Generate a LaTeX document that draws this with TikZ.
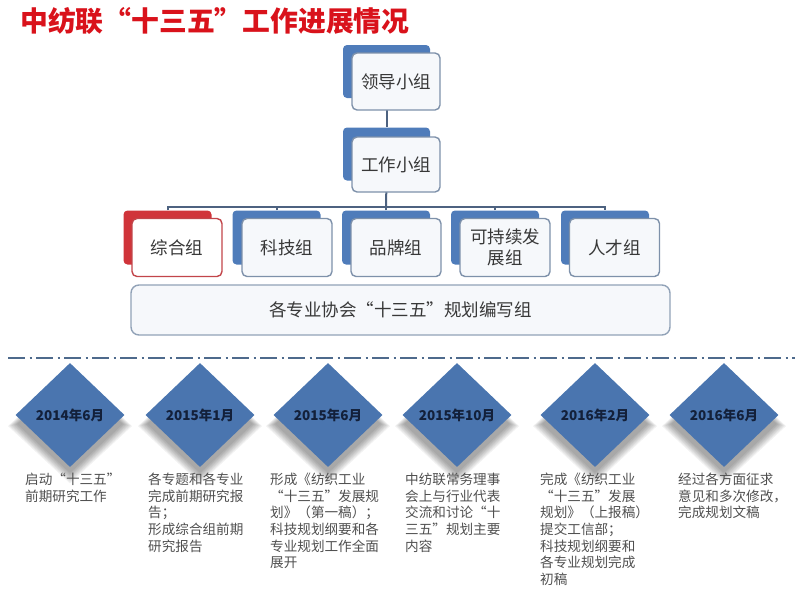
\documentclass[tikz,border=0pt]{standalone}
\usepackage{fontspec}
\setmainfont{Noto Sans CJK SC}
\usetikzlibrary{shapes.geometric}
\definecolor{boxblue}{HTML}{4F7CBA}
\definecolor{boxred}{HTML}{D0343A}
\definecolor{frontedge}{HTML}{7E91AA}
\definecolor{rededge}{HTML}{C2454A}
\definecolor{frontfill}{HTML}{F6F8FB}
\definecolor{conn}{HTML}{4D6280}
\definecolor{diamblue}{HTML}{4A75AF}
\definecolor{diamtext}{HTML}{13203A}
\definecolor{bodytext}{HTML}{4F4F4F}
\definecolor{titlered}{HTML}{D9121B}
\definecolor{dashcol}{HTML}{4E6A8C}
\begin{document}
\begin{tikzpicture}[x=1pt,y=-1pt,
  backbox/.style={fill=boxblue, rounded corners=4pt, inner sep=0pt, minimum width=88pt, minimum height=54pt},
  redback/.style={backbox, fill=boxred},
  frontbox/.style={fill=frontfill, draw=frontedge, line width=1.4pt, rounded corners=5pt, inner sep=0pt,
     minimum width=90pt, minimum height=58pt, font=\fontsize{17.5}{20.5}\selectfont, text=black!78, align=center},
  redfront/.style={frontbox, fill=white, draw=rededge},
  widebox/.style={fill=frontfill, draw=frontedge!85, line width=1.4pt, rounded corners=8pt, inner sep=0pt,
     minimum width=539pt, minimum height=50pt, font=\fontsize{17.5}{20.5}\selectfont, text=black!78},
  conline/.style={draw=conn, line width=2pt},
  diam/.style={diamond, aspect=1, fill=diamblue, inner sep=1pt, minimum width=109pt, minimum height=104pt,
     font=\bfseries\fontsize{13.5}{15}\selectfont, text=diamtext},
  shad/.style={diamond, aspect=1, fill=black, opacity=0.05, inner sep=0pt},
  desc/.style={anchor=north west, inner sep=0pt, align=left, text=bodytext,
     font=\fontsize{13.6}{16.6}\selectfont},
  ttl/.style={anchor=west, inner sep=0pt, text=titlered, font=\bfseries\fontsize{27.8}{30}\selectfont}
]
\useasboundingbox (0,0) rectangle (800,590);

% title
\node[ttl] (title) at (20,21) {中纺联“十三五”工作进展情况};

% back boxes
\node[backbox, minimum width=87pt, minimum height=53pt] (lb) at (386.5,71.5) {};
\node[backbox, minimum width=87pt, minimum height=53pt] (wb) at (386.5,154) {};
\node[redback] (g1b) at (167.5,237.5) {};
\node[backbox] (g2b) at (276.5,237.5) {};
\node[backbox] (g3b) at (386,237.5) {};
\node[backbox] (g4b) at (495,237.5) {};
\node[backbox] (g5b) at (605,237.5) {};

% connectors
\coordinate (bus) at (386,207);
\draw[conline] (lb.south) -- (wb.north);
\draw[conline] (wb.south) -- (bus);
\draw[conline] (g1b.north) -- (g1b.north |- bus) -- (g5b.north |- bus) -- (g5b.north);
\draw[conline] (g2b.north) -- (g2b.north |- bus);
\draw[conline] (g3b.north) -- (g3b.north |- bus);
\draw[conline] (g4b.north) -- (g4b.north |- bus);

% front boxes
\node[frontbox, minimum width=88pt, minimum height=57pt] (lead) at (396,81.5) {领导小组};
\node[frontbox, minimum width=88pt, minimum height=55pt] (work) at (396,164.5) {工作小组};
\node[redfront] (g1) at (177,247.5) {综合组};
\node[frontbox] (g2) at (287,247.5) {科技组};
\node[frontbox] (g3) at (396,247.5) {品牌组};
\node[frontbox] (g4) at (505,247.5) {可持续发\\展组};
\node[frontbox] (g5) at (614.5,247.5) {人才组};

\node[widebox] (assoc) at (400.5,310) {各专业协会“十三五”规划编写组};

% dash-dot separator
\coordinate (sepL) at (8,358);
\coordinate (sepR) at (795,358);
\draw[dashcol, line width=1.4pt, dash pattern=on 17pt off 4.5pt on 2pt off 4.5pt] (sepL) -- (sepR);

% soft shadows under the diamonds
\foreach \cx in {70,200,328,457,595,724}{
  \foreach \k in {0,...,7}{
    \node[shad, minimum width={106+2.6*\k}, minimum height={98+2.4*\k}] at (\cx,{424+0.3*\k}) {};
  }
}

% timeline diamonds
\node[diam] (d1) at (70,415) {2014年6月};
\node[diam] (d2) at (200,415) {2015年1月};
\node[diam] (d3) at (328,415) {2015年6月};
\node[diam] (d4) at (457,415) {2015年10月};
\node[diam] (d5) at (595,415) {2016年2月};
\node[diam] (d6) at (724,415) {2016年6月};

% descriptions
\node[desc] (t1) at (25,473) {启动“十三五”\\前期研究工作};
\node[desc] (t2) at (148,473) {各专题和各专业\\完成前期研究报\\告；\\形成综合组前期\\研究报告};
\node[desc] (t3) at (270,473) {形成《纺织工业\\“十三五”发展规\\划》（第一稿）；\\科技规划纲要和各\\专业规划工作全面\\展开};
\node[desc] (t4) at (405,473) {中纺联常务理事\\会上与行业代表\\交流和讨论“十\\三五”规划主要\\内容};
\node[desc] (t5) at (540,473) {完成《纺织工业\\“十三五”发展\\规划》（上报稿）\\提交工信部；\\科技规划纲要和\\各专业规划完成\\初稿};
\node[desc] (t6) at (678,473) {经过各方面征求\\意见和多次修改，\\完成规划文稿};
\end{tikzpicture}
\end{document}
